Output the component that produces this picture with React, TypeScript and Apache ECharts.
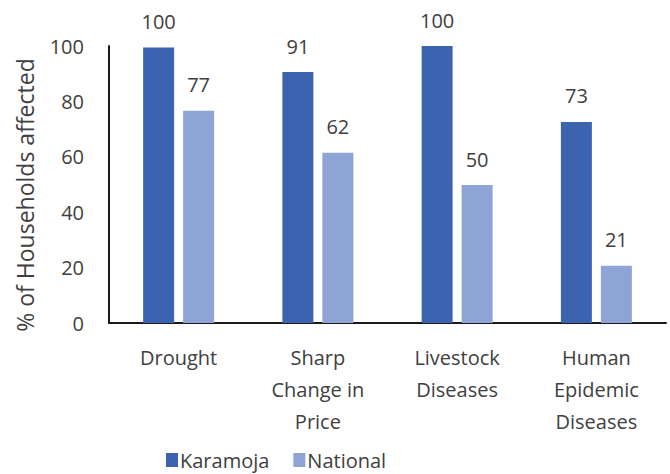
import React, { useEffect, useRef } from "react";
import * as echarts from "echarts";

const categories = ["Drought", "Sharp\nChange in\nPrice", "Livestock\nDiseases", "Human\nEpidemic\nDiseases"];
const karamoja = [99.5, 90.6, 100, 72.6];
const national = [76.6, 61.5, 49.8, 20.7];
const yTicks = [0, 20, 40, 60, 80, 100];
const yAxisTitle = "% of Households affected";

const FONT = "'Open Sans', 'Noto Sans', sans-serif";
const TEXT = "#404040";

export default function App() {
  const ref = useRef<HTMLDivElement>(null);
  useEffect(() => {
    const chart = echarts.init(ref.current!, null, { renderer: "svg" });
    const label = {
      show: true,
      position: "top",
      distance: 16,
      fontSize: 20,
      color: TEXT,
      fontFamily: FONT,
      formatter: (p: any) => String(Math.round(p.value)),
    };
    chart.setOption({
      animation: false,
      textStyle: { fontFamily: FONT },
      grid: { left: 109, right: 4, top: 46, bottom: 151, containLabel: false },
      legend: {
        top: 448,
        left: 166,
        padding: 0,
        itemWidth: 12,
        itemHeight: 14,
        itemGap: 24,
        icon: "rect",
        textStyle: { fontSize: 20, lineHeight: 24, color: TEXT, fontFamily: FONT, padding: [0, 0, 0, -3] },
        data: ["Karamoja", "National"],
      },
      graphic: [
        {
          type: "text",
          x: 25,
          y: 195,
          rotation: Math.PI / 2,
          style: {
            text: yAxisTitle,
            fontSize: 23,
            fontFamily: FONT,
            fill: TEXT,
            align: "center",
            verticalAlign: "middle",
          },
        },
      ],
      xAxis: {
        type: "category",
        data: categories,
        axisLine: { show: true, lineStyle: { color: "#1a1a1a", width: 2 } },
        axisTick: { show: false },
        axisLabel: { fontSize: 20, color: TEXT, lineHeight: 32, margin: 18, fontFamily: FONT, interval: 0 },
      },
      yAxis: {
        type: "value",
        min: yTicks[0],
        max: yTicks[yTicks.length - 1],
        interval: 20,
        axisLine: { show: true, lineStyle: { color: "#1a1a1a", width: 2 } },
        axisTick: { show: false },
        splitLine: { show: false },
        axisLabel: { fontSize: 20, color: TEXT, margin: 25, fontFamily: FONT },
      },
      series: [
        {
          name: "Karamoja",
          type: "bar",
          data: karamoja,
          barWidth: 31,
          barGap: "29%",
          itemStyle: { color: "#3B63B0" },
          label,
        },
        {
          name: "National",
          type: "bar",
          data: national,
          barWidth: 31,
          itemStyle: { color: "#8DA4D5" },
          label,
        },
      ],
    });
    return () => chart.dispose();
  }, []);
  return <div ref={ref} style={{ width: 670, height: 474, position: "absolute", left: 0, top: 0 }} />;
}
